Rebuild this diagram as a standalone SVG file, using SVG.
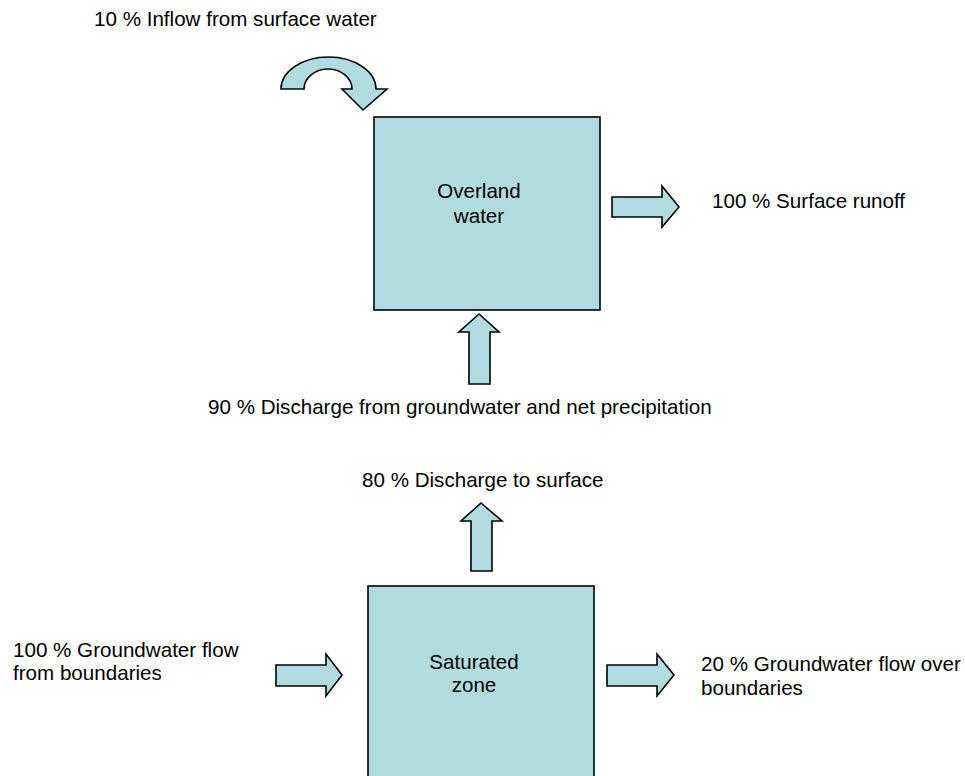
<svg xmlns="http://www.w3.org/2000/svg" width="965" height="776" viewBox="0 0 965 776">
<style>
.s{fill:#B0DCE0;stroke:#000;stroke-width:1.6;stroke-linejoin:miter}
text{font-family:"Liberation Sans",Arial,sans-serif;font-size:20.6px;fill:#000}
.c{text-anchor:middle}
</style>
<rect width="965" height="776" fill="#fff"/>
<g id="overland">
<rect class="s" x="374" y="117" width="226" height="193"/>
<text class="c" x="479" y="198">Overland</text>
<text class="c" x="479" y="223">water</text>
</g>
<g id="saturated">
<rect class="s" x="368" y="586" width="226" height="200"/>
<text class="c" x="474" y="669">Saturated</text>
<text class="c" x="474" y="692">zone</text>
</g>
<g id="connectors">
<path id="inflow-arrow" class="s" d="M281,89 A47.5,32 0 0 1 376,89 L387,89 L363,110 L342,89 L352,89 A24,20 0 0 0 304,89 Z"/>
<path id="runoff-arrow" class="s" d="M612,197 H662 V186 L679,207 L662,227 V217 H612 Z"/>
<path id="discharge-up-arrow" class="s" d="M469,384 V332 H459 L479,314 L499,332 H490 V384 Z"/>
<path id="sat-up-arrow" class="s" d="M471,571 V521 H461 L481,503 L502,521 H492 V571 Z"/>
<path id="gw-in-arrow" class="s" d="M276,665 H326 V654 L342,675 L326,696 V686 H276 Z"/>
<path id="gw-out-arrow" class="s" d="M607,665 H657 V654 L674,675 L657,696 V686 H607 Z"/>
</g>
<g id="labels">
<text x="94" y="26">10 % Inflow from surface water</text>
<text x="712" y="208">100 % Surface runoff</text>
<text x="208" y="414">90 % Discharge from groundwater and net precipitation</text>
<text x="362" y="487">80 % Discharge to surface</text>
<text x="13" y="657">100 % Groundwater flow</text>
<text x="13" y="680">from boundaries</text>
<text x="701" y="671">20 % Groundwater flow over</text>
<text x="701" y="695">boundaries</text>
</g>
</svg>
